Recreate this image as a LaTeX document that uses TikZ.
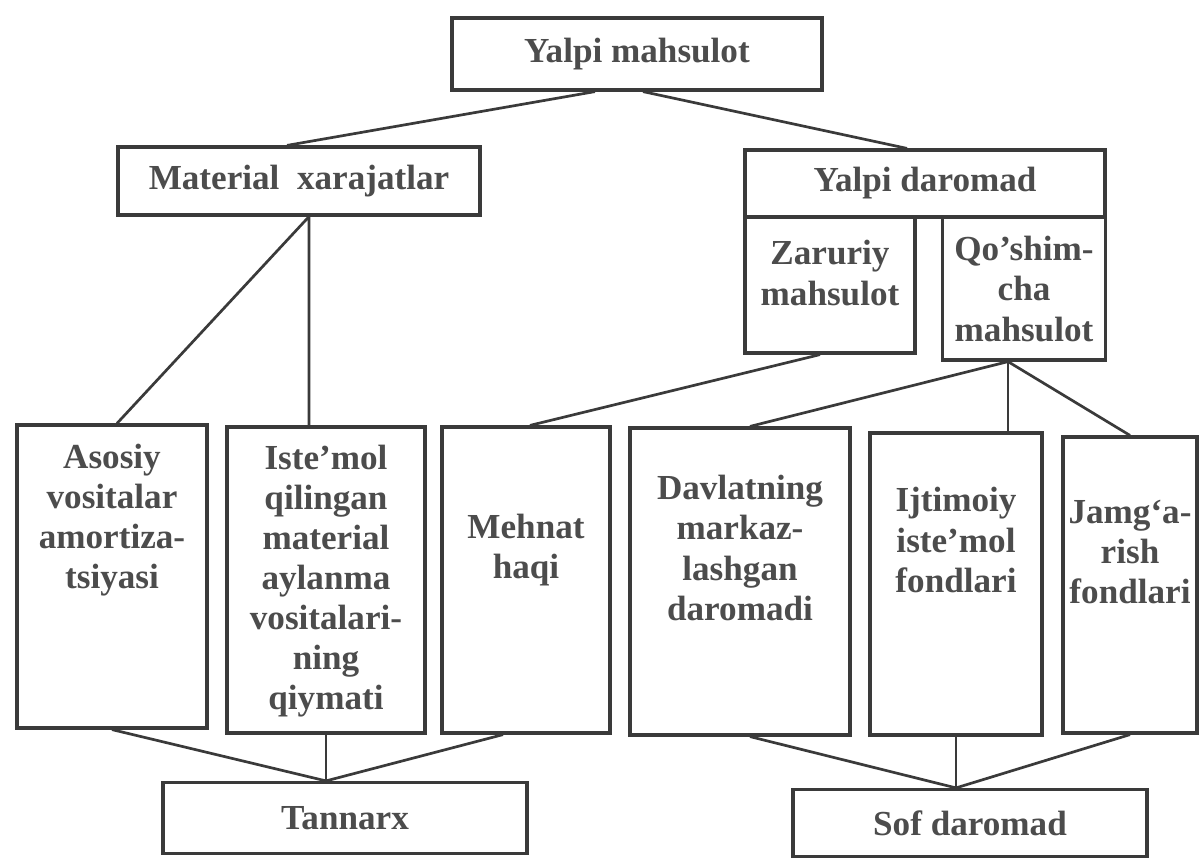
\documentclass[tikz,border=0pt]{standalone}
\usepackage{fontspec}
\setmainfont{Liberation Serif}

\newlength\px
\setlength\px{0.02cm}
\definecolor{ink}{HTML}{3A3A3A}
\definecolor{txtgray}{HTML}{4C4C4C}
\tikzset{
    cell/.style={draw=ink, line width=3.2\px, fill=white, inner sep=0pt},
    txt/.style={text=txtgray, align=center, inner sep=0pt,
        font=\fontsize{20}{22.8}\selectfont\bfseries},
    head/.style={cell, txt},
    link/.style={draw=ink, line width=2.7\px, line join=round},
}

\begin{document}
\begin{tikzpicture}[x=1\px, y=-1\px]
    \useasboundingbox (0,0) rectangle (1201,859);

    \node[head, minimum width=370\px, minimum height=72\px] (ym) at (637,54) {Yalpi mahsulot};
    \node[head, minimum width=362\px, minimum height=68\px] (mx) at (299,181) {Material\ \ xarajatlar};
    \node[head, minimum width=360\px, minimum height=67\px] (yd) at (925,183.5) {Yalpi daromad};
    \node[head, minimum width=364\px, minimum height=71\px] (tan) at (345,818) {Tannarx};
    \node[head, minimum width=354\px, minimum height=67\px] (sof) at (970,823) {Sof daromad};

    \foreach \n/\x/\y/\w/\h/\ty/\lab in {
        zm/830/285/170/136/273/{Zaruriy\\mahsulot},
        qm/1024/288.5/163/143/289/{Qo’shim-\\cha\\mahsulot},
        as/112/576.5/190/303/520/{Asosiy\\vositalar\\amortiza-\\tsiyasi},
        ist/326/580/198/306/581/{Iste’mol\\qilingan\\material\\aylanma\\vositalari-\\ning\\qiymati},
        meh/526/580/168/306/550/{Mehnat\\haqi},
        dav/740/581.5/220/307/548/{Davlatning\\markaz-\\lashgan\\daromadi},
        ijt/956/584/172/302/540/{Ijtimoiy\\iste’mol\\fondlari},
        jam/1130/585/134/296/552/{Jamg‘a-\\rish\\fondlari}}
    {\node[cell, minimum width=\w\px, minimum height=\h\px] (\n) at (\x,\y) {};
     \node[txt] (\n-t) at (\x,\ty) {\lab};}

    % upper links
    \draw[link] ([xshift=-42\px]ym.south) -- ([xshift=-12\px]mx.north);
    \draw[link] ([xshift=6\px]ym.south) -- ([xshift=-18\px]yd.north);
    \coordinate (mxb) at ([xshift=10\px]mx.south);
    \draw[link] ([xshift=5\px]as.north) -- (mxb) -- (mxb |- ist.north);
    \draw[link] ([xshift=-10\px]zm.south) -- ([xshift=4\px]meh.north);
    \coordinate (qmb) at ([xshift=-16\px]qm.south);
    \draw[link] ([xshift=10\px]dav.north) -- (qmb) -- (jam.north);
    \draw[link] (qmb) -- (qmb |- ijt.north);

    % lower links
    \coordinate (tant) at (ist.south |- tan.north);
    \draw[link] (as.south) -- (tant) -- ([xshift=-23\px]meh.south);
    \draw[link] (ist.south) -- (tant);
    \coordinate (soft) at (ijt.south |- sof.north);
    \draw[link] ([xshift=10\px]dav.south) -- (soft) -- (jam.south);
    \draw[link] (ijt.south) -- (soft);
\end{tikzpicture}
\end{document}
